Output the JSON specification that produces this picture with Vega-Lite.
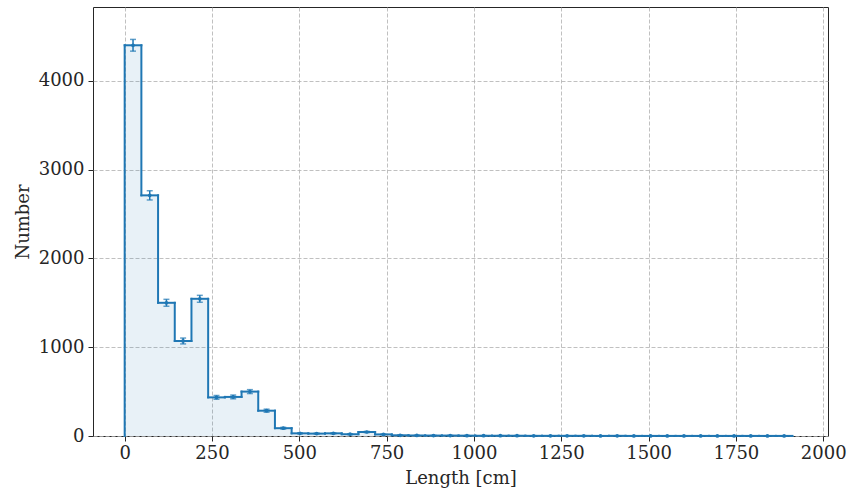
{
  "$schema": "https://vega.github.io/schema/vega-lite/v6.json",
  "width": 735,
  "height": 429,
  "autosize": {"type": "none"},
  "padding": {"left": 93, "top": 7, "right": 20, "bottom": 52},
  "config": {
    "font": "DejaVu Serif",
    "view": {"stroke": "#262626", "strokeWidth": 1},
    "axis": {
      "domain": false,
      "grid": true,
      "gridColor": "#b0b0b0",
      "gridDash": [4, 2],
      "gridWidth": 0.8,
      "tickColor": "#262626",
      "tickSize": 5,
      "tickWidth": 1,
      "format": "d",
      "labelFont": "DejaVu Serif",
      "labelFontSize": 18,
      "labelColor": "#262626",
      "titleFont": "DejaVu Serif",
      "titleFontSize": 18,
      "titleFontWeight": "normal",
      "titleColor": "#262626"
    }
  },
  "data": {
    "values": [
      {"lo": 0, "hi": 47.8, "n": 4400, "err": 66},
      {"lo": 47.8, "hi": 95.6, "n": 2710, "err": 52},
      {"lo": 95.6, "hi": 143.4, "n": 1500, "err": 39},
      {"lo": 143.4, "hi": 191.2, "n": 1070, "err": 33},
      {"lo": 191.2, "hi": 239, "n": 1545, "err": 39},
      {"lo": 239, "hi": 286.8, "n": 435, "err": 21},
      {"lo": 286.8, "hi": 334.6, "n": 440, "err": 21},
      {"lo": 334.6, "hi": 382.4, "n": 500, "err": 22},
      {"lo": 382.4, "hi": 430.2, "n": 285, "err": 17},
      {"lo": 430.2, "hi": 478, "n": 88, "err": 9.4},
      {"lo": 478, "hi": 525.8, "n": 30, "err": 5.5},
      {"lo": 525.8, "hi": 573.6, "n": 27, "err": 5.2},
      {"lo": 573.6, "hi": 621.4, "n": 30, "err": 5.5},
      {"lo": 621.4, "hi": 669.2, "n": 20, "err": 4.5},
      {"lo": 669.2, "hi": 717, "n": 45, "err": 6.7},
      {"lo": 717, "hi": 764.8, "n": 18, "err": 4.2},
      {"lo": 764.8, "hi": 812.6, "n": 8, "err": 2.8},
      {"lo": 812.6, "hi": 860.4, "n": 6, "err": 2.4},
      {"lo": 860.4, "hi": 908.2, "n": 5, "err": 2.2},
      {"lo": 908.2, "hi": 956, "n": 5, "err": 2.2},
      {"lo": 956, "hi": 1003.8, "n": 4, "err": 2},
      {"lo": 1003.8, "hi": 1051.6, "n": 3, "err": 1.7},
      {"lo": 1051.6, "hi": 1099.4, "n": 3, "err": 1.7},
      {"lo": 1099.4, "hi": 1147.2, "n": 3, "err": 1.7},
      {"lo": 1147.2, "hi": 1195, "n": 2, "err": 1.4},
      {"lo": 1195, "hi": 1242.8, "n": 2, "err": 1.4},
      {"lo": 1242.8, "hi": 1290.6, "n": 2, "err": 1.4},
      {"lo": 1290.6, "hi": 1338.4, "n": 2, "err": 1.4},
      {"lo": 1338.4, "hi": 1386.2, "n": 1, "err": 1},
      {"lo": 1386.2, "hi": 1434, "n": 2, "err": 1.4},
      {"lo": 1434, "hi": 1481.8, "n": 1, "err": 1},
      {"lo": 1481.8, "hi": 1529.6, "n": 1, "err": 1},
      {"lo": 1529.6, "hi": 1577.4, "n": 1, "err": 1},
      {"lo": 1577.4, "hi": 1625.2, "n": 1, "err": 1},
      {"lo": 1625.2, "hi": 1673, "n": 1, "err": 1},
      {"lo": 1673, "hi": 1720.8, "n": 1, "err": 1},
      {"lo": 1720.8, "hi": 1768.6, "n": 1, "err": 1},
      {"lo": 1768.6, "hi": 1816.4, "n": 1, "err": 1},
      {"lo": 1816.4, "hi": 1864.2, "n": 1, "err": 1},
      {"lo": 1864.2, "hi": 1912, "n": 1, "err": 1}
    ]
  },
  "transform": [
    {"window": [{"op": "lag", "field": "n", "as": "prev"}], "sort": [{"field": "lo", "order": "ascending"}]},
    {"calculate": "datum.prev == null ? 0 : datum.prev", "as": "prev0"},
    {"calculate": "(datum.lo + datum.hi) / 2", "as": "mid"},
    {"calculate": "datum.n - datum.err", "as": "low"},
    {"calculate": "datum.n + datum.err", "as": "high"}
  ],
  "encoding": {
    "x": {
      "type": "quantitative",
      "scale": {"domain": [-90.7, 2013.7], "nice": false, "zero": false},
      "axis": {"values": [0, 250, 500, 750, 1000, 1250, 1500, 1750, 2000], "title": "Length [cm]", "labelPadding": 3, "titlePadding": 7}
    },
    "y": {
      "type": "quantitative",
      "scale": {"domain": [0, 4831], "nice": false},
      "axis": {"values": [0, 1000, 2000, 3000, 4000], "title": "Number", "labelPadding": 4, "titlePadding": 6}
    }
  },
  "layer": [
    {
      "mark": {"type": "rect", "color": "#1f77b4", "opacity": 0.1},
      "encoding": {
        "x": {"field": "lo", "type": "quantitative"},
        "x2": {"field": "hi"},
        "y": {"field": "n", "type": "quantitative"},
        "y2": {"datum": 0}
      }
    },
    {
      "mark": {"type": "rule", "color": "#1f77b4", "strokeWidth": 2, "strokeCap": "square"},
      "encoding": {
        "x": {"field": "lo", "type": "quantitative"},
        "x2": {"field": "hi"},
        "y": {"field": "n", "type": "quantitative"}
      }
    },
    {
      "mark": {"type": "rule", "color": "#1f77b4", "strokeWidth": 2, "strokeCap": "square"},
      "encoding": {
        "x": {"field": "lo", "type": "quantitative"},
        "y": {"field": "prev0", "type": "quantitative"},
        "y2": {"field": "n"}
      }
    },
    {
      "mark": {"type": "rule", "color": "#1f77b4", "strokeWidth": 1.5},
      "encoding": {
        "x": {"field": "mid", "type": "quantitative"},
        "y": {"field": "low", "type": "quantitative"},
        "y2": {"field": "high"}
      }
    },
    {
      "mark": {"type": "tick", "color": "#1f77b4", "orient": "horizontal", "size": 6, "thickness": 1.5},
      "encoding": {
        "x": {"field": "mid", "type": "quantitative"},
        "y": {"field": "high", "type": "quantitative"}
      }
    },
    {
      "mark": {"type": "tick", "color": "#1f77b4", "orient": "horizontal", "size": 6, "thickness": 1.5},
      "encoding": {
        "x": {"field": "mid", "type": "quantitative"},
        "y": {"field": "low", "type": "quantitative"}
      }
    },
    {
      "mark": {"type": "point", "color": "#1f77b4", "filled": true, "opacity": 1, "size": 14},
      "encoding": {
        "x": {"field": "mid", "type": "quantitative"},
        "y": {"field": "n", "type": "quantitative"}
      }
    }
  ]
}
